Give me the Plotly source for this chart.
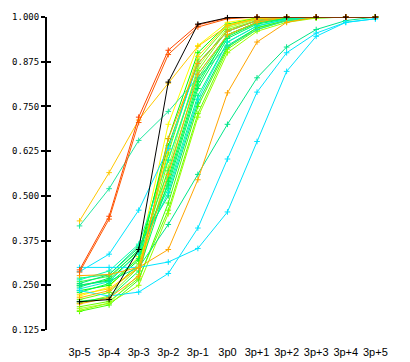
import plotly.graph_objects as go

categories = ["3p-5", "3p-4", "3p-3", "3p-2", "3p-1", "3p0", "3p+1", "3p+2", "3p+3", "3p+4", "3p+5"]
y_ticks = [0.125, 0.25, 0.375, 0.5, 0.625, 0.75, 0.875, 1.0]

# green / yellow bundle
g01 = [0.220, 0.245, 0.330, 0.700, 0.920, 0.985, 0.998, 1.0, 1.0, 1.0, 1.0]
g02 = [0.235, 0.250, 0.320, 0.660, 0.900, 0.980, 0.997, 1.0, 1.0, 1.0, 1.0]
g03 = [0.210, 0.230, 0.310, 0.620, 0.880, 0.975, 0.995, 1.0, 1.0, 1.0, 1.0]
g04 = [0.185, 0.200, 0.280, 0.580, 0.860, 0.970, 0.993, 1.0, 1.0, 1.0, 1.0]
g05 = [0.200, 0.220, 0.300, 0.600, 0.850, 0.965, 0.990, 0.998, 1.0, 1.0, 1.0]
g06 = [0.250, 0.265, 0.340, 0.640, 0.870, 0.960, 0.990, 0.998, 1.0, 1.0, 1.0]
g07 = [0.260, 0.275, 0.345, 0.570, 0.830, 0.950, 0.985, 0.997, 1.0, 1.0, 1.0]
g08 = [0.230, 0.255, 0.325, 0.550, 0.820, 0.945, 0.983, 0.996, 1.0, 1.0, 1.0]
g09 = [0.245, 0.270, 0.350, 0.530, 0.800, 0.940, 0.980, 0.995, 1.0, 1.0, 1.0]
g10 = [0.270, 0.280, 0.355, 0.520, 0.780, 0.930, 0.975, 0.993, 1.0, 1.0, 1.0]
g11 = [0.255, 0.280, 0.360, 0.500, 0.760, 0.920, 0.970, 0.990, 0.998, 1.0, 1.0]
g12 = [0.177, 0.195, 0.265, 0.480, 0.750, 0.915, 0.970, 0.990, 0.998, 1.0, 1.0]
g13 = [0.190, 0.205, 0.270, 0.460, 0.730, 0.910, 0.965, 0.990, 0.998, 1.0, 1.0]
g14 = [0.180, 0.200, 0.250, 0.450, 0.720, 0.900, 0.960, 0.985, 0.997, 1.0, 1.0]
g15 = [0.265, 0.290, 0.365, 0.600, 0.840, 0.950, 0.985, 0.997, 1.0, 1.0, 1.0]
g16 = [0.240, 0.260, 0.340, 0.510, 0.770, 0.930, 0.975, 0.994, 1.0, 1.0, 1.0]
g17 = [0.225, 0.240, 0.300, 0.630, 0.890, 0.978, 0.996, 1.0, 1.0, 1.0, 1.0]
g18 = [0.205, 0.215, 0.290, 0.540, 0.810, 0.950, 0.985, 0.997, 1.0, 1.0, 1.0]

# distinct lines
seagreen_slow = [0.250, 0.262, 0.300, 0.420, 0.560, 0.700, 0.830, 0.916, 0.965, 0.990, 1.0]
cyan_flat = [0.300, 0.300, 0.300, 0.315, 0.353, 0.455, 0.652, 0.848, 0.946, 0.985, 0.995]
cyan_low = [0.235, 0.220, 0.231, 0.283, 0.410, 0.603, 0.790, 0.900, 0.955, 0.985, 0.995]
cyan_up = [0.288, 0.337, 0.460, 0.633, 0.870, 0.960, 0.990, 1.0, 1.0, 1.0, 1.0]
seagreen_top = [0.416, 0.520, 0.655, 0.736, 0.830, 0.918, 0.965, 0.990, 1.0, 1.0, 1.0]
orange_slow = [0.277, 0.280, 0.300, 0.350, 0.545, 0.788, 0.930, 0.985, 1.0, 1.0, 1.0]
orange_mid = [0.198, 0.215, 0.275, 0.660, 0.870, 0.960, 0.990, 1.0, 1.0, 1.0, 1.0]
orange_b = [0.215, 0.235, 0.300, 0.560, 0.840, 0.950, 0.985, 1.0, 1.0, 1.0, 1.0]
gold_top = [0.430, 0.565, 0.712, 0.815, 0.918, 0.975, 0.995, 1.0, 1.0, 1.0, 1.0]
red_a = [0.293, 0.443, 0.720, 0.907, 0.978, 0.997, 1.0, 1.0, 1.0, 1.0, 1.0]
red_b = [0.287, 0.435, 0.705, 0.895, 0.972, 0.995, 1.0, 1.0, 1.0, 1.0, 1.0]
black_line = [0.204, 0.210, 0.350, 0.818, 0.980, 0.998, 1.0, 1.0, 1.0, 1.0, 1.0]

series = [g01, g02, g03, g04, g05, g06, g07, g08, g09, g10, g11, g12, g13, g14, g15, g16, g17, g18,
          seagreen_slow, cyan_flat, cyan_low, cyan_up, seagreen_top,
          orange_slow, orange_mid, orange_b, gold_top, red_a, red_b, black_line]
colors = ["#FFFF00", "#00FF00", "#66FF00", "#ADFF2F", "#7FFF00", "#00FF00", "#33FF33", "#00FF40",
          "#00F060", "#00FF7F", "#00E676", "#40FF00", "#66FF00", "#99FF00", "#00FFB0", "#00F0D0",
          "#FFD700", "#00FF50",
          "#00E68A", "#00E5FF", "#00E5FF", "#00E5FF", "#1FE8A0",
          "#FFA500", "#FFA500", "#FFB000", "#FFC800", "#FF4500", "#FF5A00", "#000000"]

fig = go.Figure()
for vals, col in zip(series, colors):
    fig.add_trace(go.Scatter(
        x=list(range(len(categories))), y=vals, mode="lines+markers",
        line=dict(color=col, width=1),
        marker=dict(symbol="cross-thin", size=4, line=dict(color=col, width=1), color=col),
        showlegend=False, cliponaxis=False, hoverinfo="skip"))

# invisible trace for the inside-tick overlay axis
fig.add_trace(go.Scatter(x=[0], y=[0.5], yaxis="y2", mode="markers",
                         marker=dict(opacity=0), showlegend=False, hoverinfo="skip"))

fig.update_layout(
    width=402, height=354,
    margin=dict(l=34, r=10, t=4, b=28),
    paper_bgcolor="white", plot_bgcolor="white",
    xaxis=dict(range=[-1.1, 10.833], tickmode="array", tickvals=list(range(len(categories))),
               ticktext=categories, showgrid=False, zeroline=False, showline=False, ticks="",
               ticklabelstandoff=14,
               tickfont=dict(family="Liberation Sans", size=11, color="black")),
    yaxis=dict(range=[0.125, 1.0], tickmode="array", tickvals=y_ticks, tickformat=".3f",
               showgrid=False, zeroline=False, showline=True, linecolor="black", linewidth=2,
               ticks="outside", ticklen=4, tickwidth=2, tickcolor="black",
               ticklabeloverflow="allow",
               tickfont=dict(family="DejaVu Sans Mono", size=9, color="black")),
    yaxis2=dict(range=[0.125, 1.0], overlaying="y", side="left", tickmode="array",
                tickvals=y_ticks, showticklabels=False, showgrid=False, zeroline=False,
                showline=False, ticks="inside", ticklen=4, tickwidth=2, tickcolor="black"),
)

fig.write_html("out.html")
